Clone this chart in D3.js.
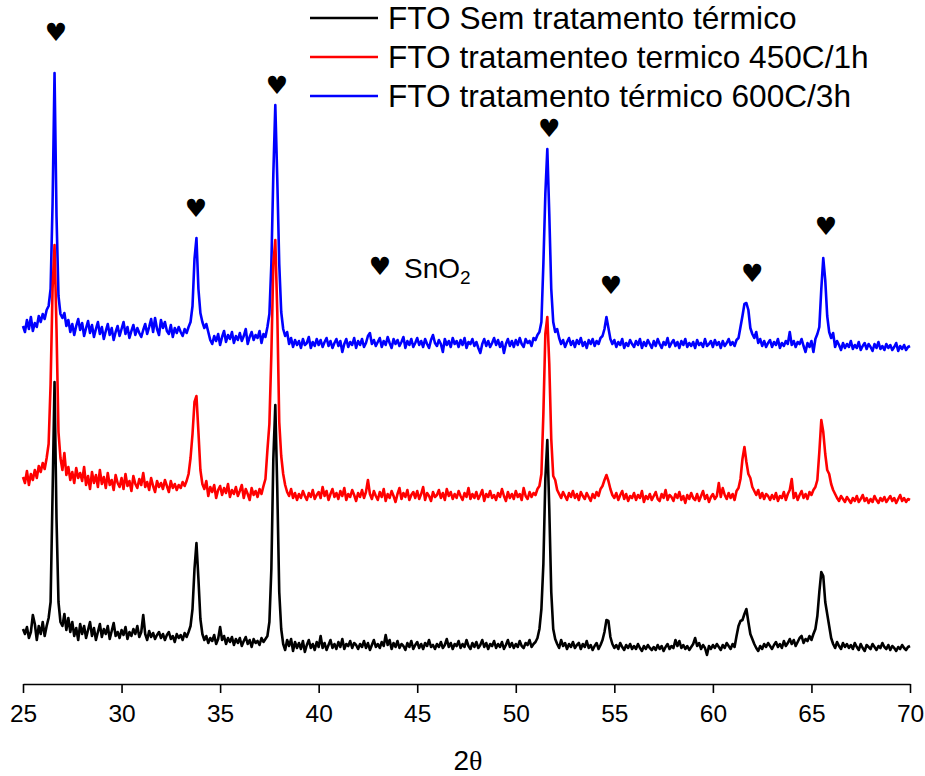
<!DOCTYPE html>
<html><head><meta charset="utf-8">
<script src="https://cdn.jsdelivr.net/npm/d3@7"></script>
<style>body{margin:0;background:#fff}svg{display:block}</style>
</head><body>
<svg id="c" width="925" height="776"></svg>
<script>
// 2θ sampling grid
const thetaStart = 25, thetaStep = 0.1;
const xTicks = [25, 30, 35, 40, 45, 50, 55, 60, 65, 70];
const seriesNames = ["FTO Sem tratamento térmico", "FTO tratamenteo termico 450C/1h", "FTO tratamento térmico 600C/3h"];
const seriesColors = ["#000000", "#ff0000", "#0000ff"];

// intensities (a.u., offset stacked) one row per degree, 0.1° step
const blackI = [
55,50,57,46,52,69,60,44,58,50,
62,48,58,66,82,190,302,165,82,62,
58,70,54,66,52,62,48,56,44,60,
50,58,46,54,62,48,56,44,52,60,
47,55,50,58,45,53,61,48,52,46,
54,49,57,45,52,48,55,50,58,47,
52,69,50,44,53,47,51,45,49,52,
46,50,44,49,52,45,48,42,50,46,
49,44,51,47,52,58,75,115,141,105,
65,50,44,48,41,46,43,49,40,45,
57,44,48,40,46,42,47,39,45,41,
46,38,43,47,40,44,37,45,41,43,
39,46,42,45,48,62,115,225,279,195,
92,55,40,34,44,38,45,33,42,36,
41,35,43,32,39,44,36,40,34,42,
37,48,36,41,34,39,44,36,40,35,
42,37,45,35,40,38,43,36,41,39,
35,40,37,43,36,41,34,39,44,37,
40,36,42,38,49,39,44,35,41,37,
43,36,40,38,34,41,37,43,35,39,
42,36,40,35,41,38,44,37,39,35,
40,37,42,36,39,45,37,41,35,40,
38,43,36,40,37,44,38,35,41,37,
42,36,39,44,37,41,35,40,38,43,
36,40,37,42,35,39,44,37,41,36,
40,37,43,38,36,41,39,44,37,40,
42,46,55,75,120,205,244,175,92,55,
45,40,36,44,38,41,35,40,37,42,
36,39,41,35,40,37,43,36,39,34,
38,41,35,39,44,52,64,63,47,40,
36,39,35,41,37,34,39,36,40,35,
38,35,40,36,33,38,35,39,36,34,
37,34,39,35,38,33,37,40,35,38,
36,44,38,43,36,39,35,38,34,37,
40,46,38,41,35,39,36,29,38,35,
39,36,40,37,34,39,36,41,38,35,
40,37,48,58,63,64,70,75,62,50,
45,40,36,33,38,35,40,37,41,38,
35,39,42,37,40,36,43,38,41,45,
40,44,38,42,46,48,41,45,43,48,
44,50,55,68,92,112,108,82,70,58,
46,40,36,42,38,35,41,37,40,36,
39,35,41,37,34,40,36,33,39,37,
35,40,37,34,38,36,41,37,35,39,
34,38,36,33,37,35,39,36,34,37,
38];

const redI = [
207,201,213,199,210,204,214,206,218,212,
221,215,226,240,300,395,439,355,252,226,
214,231,209,217,204,212,201,216,206,211,
203,217,199,208,195,212,201,209,197,214,
200,207,196,211,199,204,194,209,201,197,
206,195,210,198,203,193,208,200,196,205,
199,211,197,202,194,206,198,192,203,197,
201,195,204,198,192,203,196,200,194,199,
196,202,198,203,210,226,250,282,288,252,
214,200,195,203,188,197,192,199,186,194,
198,189,196,191,200,187,194,190,197,188,
193,199,186,195,190,184,196,189,193,187,
195,190,198,205,234,260,330,420,444,372,
262,228,210,199,192,188,195,186,191,184,
190,186,193,188,184,191,187,194,185,189,
192,186,197,188,193,184,190,195,187,191,
185,193,188,196,184,190,187,194,189,183,
191,187,194,186,192,204,190,185,193,188,
184,192,187,195,183,190,186,193,188,182,
190,196,185,191,187,194,184,189,192,186,
193,185,190,197,184,191,188,183,192,187,
189,194,186,191,184,195,188,192,185,190,
186,193,188,184,191,187,196,185,190,186,
192,185,189,194,183,190,187,193,186,189,
184,191,187,195,188,183,192,186,190,185,
193,187,190,184,196,188,185,192,187,191,
189,195,198,210,270,350,367,320,245,208,
204,194,190,186,192,188,184,191,187,193,
186,190,184,192,188,185,191,187,183,190,
186,192,188,195,198,204,209,203,195,189,
186,191,184,189,193,185,190,183,188,186,
191,184,189,186,193,182,188,185,190,184,
188,192,185,183,190,186,194,184,189,187,
183,190,186,192,184,188,181,189,185,191,
186,184,190,183,188,193,185,189,182,187,
190,185,188,201,187,196,189,185,191,186,
190,184,193,196,205,225,237,222,210,206,
197,193,189,194,186,191,185,190,188,184,
189,185,191,183,188,186,192,184,190,194,
205,186,191,184,189,193,186,190,185,192,
189,194,197,204,232,264,252,230,214,210,
200,194,190,186,183,188,185,182,187,184,
181,186,183,188,182,185,189,183,186,181,
185,182,188,184,181,186,183,187,182,185,
188,183,186,181,185,189,183,186,182,185,
184];

const blueI = [
358,352,364,355,367,353,361,357,368,362,
370,365,374,378,395,480,611,468,388,370,
366,371,358,364,352,360,349,358,365,354,
361,348,356,363,351,359,347,355,362,350,
357,345,353,360,349,356,344,352,358,348,
355,362,350,357,346,353,359,349,356,351,
347,354,360,350,357,365,352,366,355,349,
364,356,362,353,350,359,347,356,351,357,
352,348,355,351,357,362,378,425,446,395,
371,362,356,360,352,344,340,348,343,350,
339,347,353,342,349,345,352,341,348,344,
351,343,348,355,340,347,352,344,349,346,
353,341,350,347,357,370,420,510,579,505,
420,372,355,348,352,340,346,337,344,339,
343,336,345,339,341,347,336,342,338,345,
339,344,337,342,346,338,343,336,341,345,
338,343,332,340,345,337,342,339,346,336,
343,339,345,337,341,348,351,340,344,338,
342,346,337,343,339,347,341,336,345,340,
344,338,342,347,336,343,339,345,337,341,
346,339,343,337,345,340,336,344,349,341,
338,344,340,332,345,339,343,337,346,340,
343,337,344,339,346,336,342,340,345,338,
342,336,331,340,345,338,343,337,341,346,
339,344,337,342,331,340,345,338,343,337,
344,339,346,340,337,345,341,343,338,346,
344,349,352,362,420,490,535,470,395,362,
352,355,346,340,344,337,342,346,339,343,
337,344,340,346,338,342,336,344,340,345,
338,343,340,346,348,355,367,356,345,340,
344,337,342,339,345,336,341,338,344,340,
337,343,339,345,336,342,338,344,340,336,
343,338,345,340,336,342,339,346,337,341,
344,338,342,336,343,339,345,337,341,338,
342,336,344,339,341,337,345,338,340,343,
337,344,339,342,336,343,338,341,345,339,
342,338,344,346,357,368,380,381,374,356,
350,346,352,341,345,338,343,337,341,344,
337,342,339,345,336,341,338,343,340,352,
339,343,337,342,340,345,338,332,341,337,
343,332,345,350,357,395,426,404,368,352,
346,351,337,343,339,334,341,336,340,337,
343,335,339,336,342,334,338,341,335,340,
337,333,340,336,342,335,338,334,340,336,
339,334,337,341,333,338,335,339,334,337,
338];

// SnO2 reflection markers [2θ, height]
const markers = [[26.67, 652], [33.78, 476], [37.89, 599], [51.69, 556], [54.83, 399], [61.99, 411], [65.74, 458]];

const svg = d3.select("#c");
const x = d3.scaleLinear().domain([25, 70]).range([23, 910]);
const y = d3.scaleLinear().domain([0, 660]).range([684, 24]);

const toPts = arr => arr.map((v, i) => [thetaStart + i * thetaStep, v]);
const line = d3.line().x(d => x(d[0])).y(d => y(d[1]));

const allSeries = [blackI, redI, blueI];
// draw blue, red, then black on top
[2, 1, 0].forEach(k => {
  svg.append("path").datum(toPts(allSeries[k]))
    .attr("d", line).attr("fill", "none")
    .attr("stroke", seriesColors[k]).attr("stroke-width", 2.6)
    .attr("stroke-linejoin", "round");
});

// axis
const ax = svg.append("g").attr("transform", "translate(0,684)")
  .call(d3.axisBottom(x).tickValues(xTicks).tickSize(9).tickSizeOuter(0).tickPadding(12).tickFormat(d3.format("d")));
ax.select(".domain").attr("stroke", "#000").attr("stroke-width", 1.6);
ax.selectAll(".tick line").attr("stroke", "#000").attr("stroke-width", 1.6);
ax.selectAll(".tick text").attr("font-family", "Liberation Sans, Arial, sans-serif").attr("font-size", 24.5).attr("fill", "#000");

const xl = svg.append("text").attr("x", 468).attr("y", 770).attr("text-anchor", "middle")
  .attr("font-family", "Liberation Sans, Arial, sans-serif").attr("font-size", 28);
xl.append("tspan").text("2");
xl.append("tspan").attr("font-family", "Liberation Serif, serif").text("θ");

// markers
svg.selectAll("text.mk").data(markers).join("text").attr("class", "mk")
  .attr("x", d => x(d[0])).attr("y", d => y(d[1]) + 9).attr("text-anchor", "middle")
  .attr("font-family", "DejaVu Sans").attr("font-size", 25).attr("fill", "#000").text("♥");

// SnO2 key
svg.append("text").attr("x", 380).attr("y", 275).attr("text-anchor", "middle")
  .attr("font-family", "DejaVu Sans").attr("font-size", 25).text("♥");
const sn = svg.append("text").attr("x", 404).attr("y", 278)
  .attr("font-family", "Liberation Sans, Arial, sans-serif").attr("font-size", 28);
sn.append("tspan").text("SnO");
sn.append("tspan").attr("font-size", 19).attr("dy", 6).text("2");

// legend
const lg = svg.append("g");
seriesNames.forEach((n, i) => {
  const yy = 18 + i * 39;
  lg.append("line").attr("x1", 310).attr("x2", 378).attr("y1", yy).attr("y2", yy)
    .attr("stroke", seriesColors[i]).attr("stroke-width", 2.6);
  lg.append("text").attr("x", 388).attr("y", yy + 11)
    .attr("font-family", "Liberation Sans, Arial, sans-serif").attr("font-size", 31.6).text(n);
});
</script>
</body></html>
